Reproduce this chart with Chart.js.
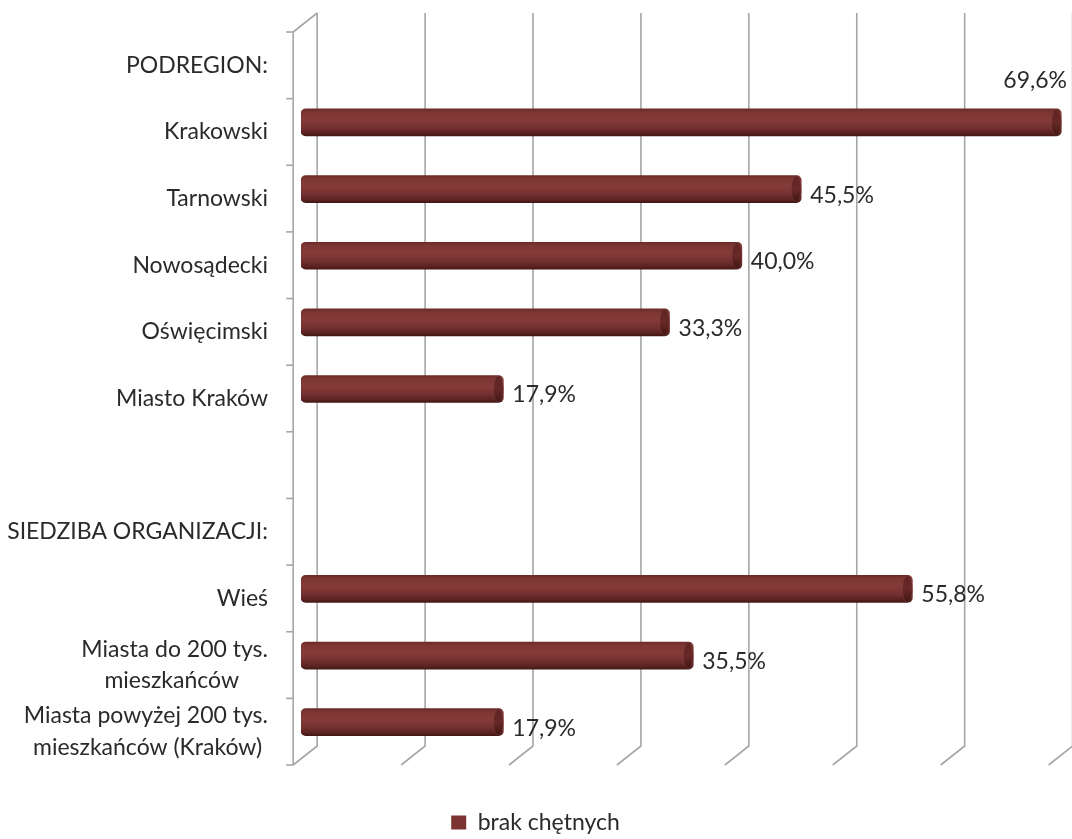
<!DOCTYPE html>
<html>
<head>
<meta charset="utf-8">
<script src="https://cdn.jsdelivr.net/npm/chart.js@4"></script>
<style>
  html, body { margin: 0; padding: 0; background: #ffffff; }
  #wrap { width: 1072px; height: 839px; position: relative; }
</style>
</head>
<body>
<div id="wrap"><canvas id="c"></canvas></div>
<script>
// ---- data ----
const NB = '\u00A0';
const categories = [
  'PODREGION:', 'Krakowski', 'Tarnowski', 'Nowosądecki', 'Oświęcimski', 'Miasto Kraków',
  '', 'SIEDZIBA ORGANIZACJI:', 'Wieś',
  ['Miasta do 200 tys.', 'mieszkańców' + NB.repeat(5)],
  ['Miasta powyżej 200 tys.', 'mieszkańców (Kraków)' + NB]
];
const values = [null, 69.6, 45.5, 40.0, 33.3, 17.9, null, null, 55.8, 35.5, 17.9];
const seriesName = 'brak chętnych';
const gridValues = [0, 10, 20, 30, 40, 50, 60, 70];

// ---- style ----
const FONT = 'Lato, "Open Sans", sans-serif';
const TEXT = '#2a2a2a';
const BAR = '#7b3431';
const GRID = '#a6a6a6';
const DEPTH_X = 24, DEPTH_Y = 19, FRONT_SHIFT = 17, SHIFT_Y = 9.5;

function fmt(v) { return v.toFixed(1).replace('.', ',') + '%'; }

const frame3d = {
  id: 'frame3d',
  beforeDatasetsDraw(chart) {
    const { ctx, chartArea } = chart;
    const xs = chart.scales.x, ys = chart.scales.y;
    const topFront = chartArea.top + SHIFT_Y, botFront = chartArea.bottom + SHIFT_Y;
    const topBack = topFront - DEPTH_Y, botBack = botFront - DEPTH_Y;
    ctx.save();
    ctx.strokeStyle = GRID;
    ctx.lineWidth = 1.6;
    gridValues.forEach(v => {
      const fx = xs.getPixelForValue(v) - FRONT_SHIFT;
      const bx = fx + DEPTH_X;
      ctx.beginPath();
      ctx.moveTo(bx, topBack);
      ctx.lineTo(bx, botBack);
      ctx.lineTo(fx, botFront);
      ctx.stroke();
    });
    // left wall
    const fx0 = xs.getPixelForValue(0) - FRONT_SHIFT;
    ctx.beginPath();
    ctx.moveTo(fx0 + DEPTH_X, topBack);
    ctx.lineTo(fx0, topFront);
    ctx.lineTo(fx0, botFront);
    ctx.stroke();
    // category ticks on the wall
    const n = categories.length;
    for (let i = 0; i <= n; i++) {
      let y;
      if (i === 0) y = topFront;
      else if (i === n) y = botFront;
      else y = (ys.getPixelForValue(i - 1) + ys.getPixelForValue(i)) / 2 + SHIFT_Y;
      ctx.beginPath();
      ctx.moveTo(fx0 - 7, y);
      ctx.lineTo(fx0, y);
      ctx.stroke();
    }
    ctx.restore();
  },
  afterDatasetsDraw(chart) {
    const { ctx } = chart;
    const meta = chart.getDatasetMeta(0);
    ctx.save();
    meta.data.forEach((el, i) => {
      const v = values[i];
      if (v === null || v === undefined) return;
      const h = el.height;
      // end cap of the cylinder
      const g = ctx.createLinearGradient(0, el.y - h / 2, 0, el.y + h / 2);
      g.addColorStop(0, '#5e2422');
      g.addColorStop(0.5, '#682927');
      g.addColorStop(1, '#3e1513');
      ctx.fillStyle = g;
      ctx.beginPath();
      ctx.ellipse(el.x - 5, el.y, 5, h / 2 - 0.5, 0, 0, Math.PI * 2);
      ctx.fill();
      ctx.strokeStyle = 'rgba(140,80,78,0.45)';
      ctx.lineWidth = 0.7;
      ctx.stroke();
      // value label
      ctx.font = '23px ' + FONT;
      ctx.fillStyle = TEXT;
      ctx.textBaseline = 'middle';
      const t = fmt(v);
      const w = ctx.measureText(t).width;
      let x = el.x + 9, y = el.y + 6;
      if (x + w > chart.width - 2) {
        ctx.textAlign = 'right';
        x = chart.width - 5; y = el.y - 42;
      } else {
        ctx.textAlign = 'left';
      }
      ctx.fillText(t, x, y);
    });
    ctx.restore();
  }
};

function barFill(c) {
  const chart = c.chart;
  if (c.type !== 'data' || !chart.chartArea) return BAR;
  const yc = chart.scales.y.getPixelForValue(c.dataIndex);
  const h = 13.5;
  const g = chart.ctx.createLinearGradient(0, yc - h, 0, yc + h);
  g.addColorStop(0, '#6b2b29');
  g.addColorStop(0.12, '#7d3633');
  g.addColorStop(0.4, '#853c39');
  g.addColorStop(0.7, '#733030');
  g.addColorStop(0.9, '#5a2220');
  g.addColorStop(1, '#431816');
  return g;
}

new Chart(document.getElementById('c'), {
  type: 'bar',
  data: {
    labels: categories,
    datasets: [{
      label: seriesName,
      data: values,
      backgroundColor: barFill,
      borderWidth: 0,
      borderSkipped: false,
      borderRadius: 5,
      barThickness: 27,
      base: -0.85
    }]
  },
  options: {
    indexAxis: 'y',
    responsive: true,
    maintainAspectRatio: false,
    animation: false,
    layout: { padding: { top: 22.5, right: 1, left: 0, bottom: 0 } },
    scales: {
      x: {
        min: -0.85, max: 70.5,
        grid: { display: false },
        border: { display: false },
        ticks: { display: false },
        afterFit: s => { s.height = 45.5; s.paddingLeft = 0; s.paddingRight = 0; }
      },
      y: {
        grid: { display: false, drawTicks: false },
        border: { display: false },
        ticks: {
          autoSkip: false,
          padding: 33,
          labelOffset: 9.5,
          color: TEXT,
          font: { family: FONT, size: 23, lineHeight: 1.36 }
        },
        afterFit: s => { s.width = 301; s.paddingTop = 0; s.paddingBottom = 0; }
      }
    },
    plugins: {
      legend: {
        position: 'bottom',
        maxHeight: 38,
        labels: {
          boxWidth: 15, boxHeight: 14, padding: 10,
          color: TEXT,
          font: { family: FONT, size: 23 },
          generateLabels: chart =>
            Chart.defaults.plugins.legend.labels.generateLabels(chart)
              .map(l => Object.assign(l, { fillStyle: BAR, strokeStyle: BAR, lineWidth: 0 }))
        }
      },
      tooltip: { enabled: false }
    }
  },
  plugins: [frame3d]
});
</script>
</body>
</html>
